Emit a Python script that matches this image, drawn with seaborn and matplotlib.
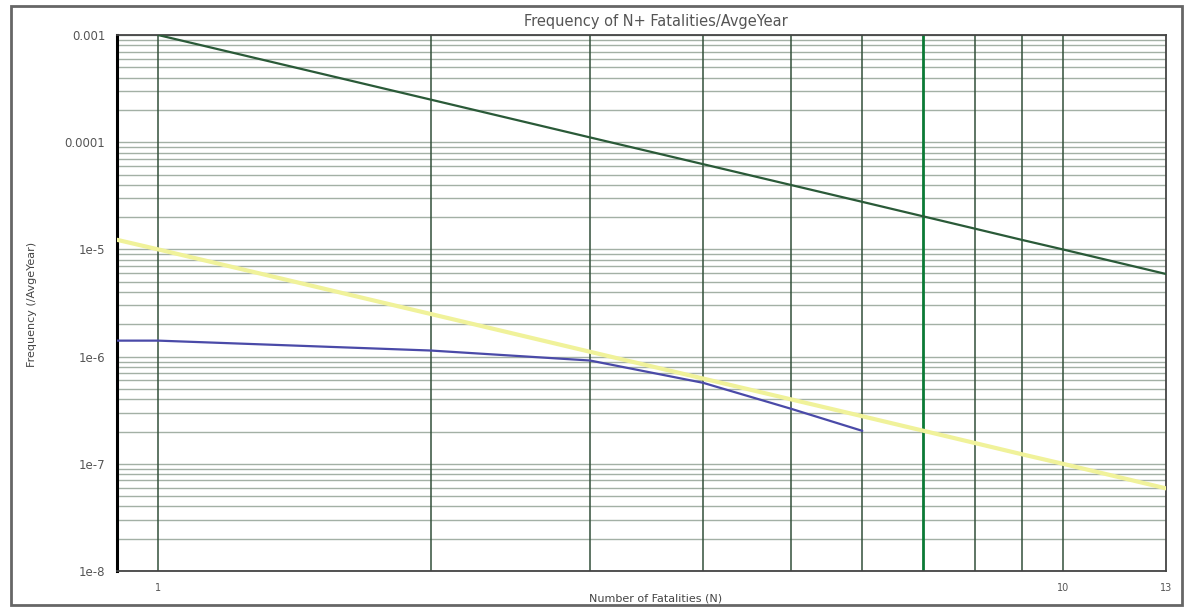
import pandas as pd
import numpy as np
import matplotlib.pyplot as plt
import seaborn as sns
from matplotlib.patches import Rectangle
from matplotlib.ticker import FixedLocator, NullFormatter

# values
n_upper = [1, 2, 3, 4, 5, 6, 7, 8, 9, 10, 13]
f_upper = [1e-3, 2.5e-4, 1.11e-4, 6.25e-5, 4e-5, 2.78e-5, 2.04e-5, 1.56e-5, 1.23e-5, 1e-5, 5.9e-6]

n_lower = [0.9, 1, 2, 3, 4, 5, 6, 7, 8, 9, 10, 13]
f_lower = [1.23e-5, 1e-5, 2.5e-6, 1.11e-6, 6.25e-7, 4e-7, 2.78e-7, 2.04e-7, 1.56e-7, 1.23e-7, 1e-7, 5.9e-8]

n_fn = [0.9, 1, 2, 3, 4, 5, 6]
f_fn = [1.41e-6, 1.41e-6, 1.14e-6, 9.2e-7, 5.7e-7, 3.27e-7, 2.03e-7]

y_ticks = [1e-8, 1e-7, 1e-6, 1e-5, 1e-4, 1e-3]
y_labels = ["1e-8", "1e-7", "1e-6", "1e-5", "0.0001", "0.001"]
x_grid = [1, 2, 3, 4, 5, 6, 7, 8, 9, 10]
x_ticks = [1, 10, 13]
x_labels = ["1", "10", "13"]

df_upper = pd.DataFrame({"N": n_upper, "F": f_upper})
df_lower = pd.DataFrame({"N": n_lower, "F": f_lower})
df_fn = pd.DataFrame({"N": n_fn, "F": f_fn})

sns.set_style("white")
plt.rcParams['font.family'] = ['DejaVu Sans']

fig = plt.figure(figsize=(11.88, 6.09), dpi=100)
ax = fig.add_axes([0.0985, 0.0624, 0.883, 0.880])
ax.set_xscale("log")
ax.set_yscale("log")
ax.set_xlim(0.9, 13)
ax.set_ylim(1e-8, 1e-3)

# horizontal grid at every 1..9 of each decade
minor_y = [m * 10.0 ** e for e in range(-8, -3) for m in range(2, 10)]
for v in minor_y + y_ticks:
    ax.axhline(v, color="#a3b0a5", lw=1.0, zorder=1)
for v in x_grid:
    if v == 7:
        ax.axvline(v, color="#0b7a35", lw=2.0, zorder=1)
    else:
        ax.axvline(v, color="#33503b", lw=1.1, zorder=1)

sns.lineplot(data=df_lower, x="N", y="F", ax=ax, color="#f0f29a", lw=3, zorder=3)
sns.lineplot(data=df_fn, x="N", y="F", ax=ax, color="#4a4aa8", lw=1.6, zorder=4)
sns.lineplot(data=df_upper, x="N", y="F", ax=ax, color="#2a5a38", lw=1.6, zorder=4)

ax.yaxis.set_major_locator(FixedLocator(y_ticks))
ax.set_yticklabels(y_labels)
ax.yaxis.set_minor_locator(FixedLocator(minor_y))
ax.yaxis.set_minor_formatter(NullFormatter())
ax.xaxis.set_major_locator(FixedLocator(x_ticks))
ax.set_xticklabels(x_labels)
ax.xaxis.set_minor_locator(FixedLocator([]))
ax.tick_params(axis="y", which="major", length=5, color="#666666", labelsize=8.5, labelcolor="#555555")
ax.tick_params(axis="y", which="minor", length=3, color="#888888")
ax.tick_params(axis="x", which="major", length=5, color="#666666", labelsize=7, labelcolor="#555555")

for side in ["top", "right", "bottom"]:
    ax.spines[side].set_color("#444444")
    ax.spines[side].set_linewidth(1.3)
ax.spines["left"].set_color("black")
ax.spines["left"].set_linewidth(2.2)

ax.set_xlabel("")
ax.set_ylabel("")
fig.text(0.552, 0.965, "Frequency of N+ Fatalities/AvgeYear", ha="center", va="center",
         fontsize=10.5, color="#555555")
fig.text(0.552, 0.018, "Number of Fatalities (N)", ha="center", va="center",
         fontsize=8, color="#444444")
fig.text(0.027, 0.50, "Frequency (/AvgeYear)", ha="center", va="center",
         rotation=90, fontsize=8, color="#444444")

fig.patches.append(Rectangle((0.009, 0.006), 0.986, 0.984, transform=fig.transFigure,
                             fill=False, edgecolor="#666666", lw=2))

fig.savefig("out.png", dpi=100)
